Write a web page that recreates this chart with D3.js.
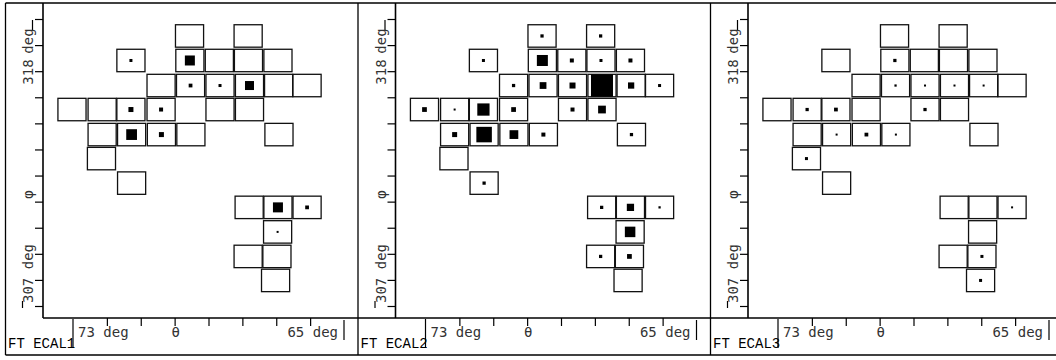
<!DOCTYPE html>
<html><head><meta charset="utf-8">
<script src="https://cdn.jsdelivr.net/npm/d3@7"></script>
<style>body{margin:0;background:#fff}svg{display:block}</style>
</head><body><svg id="c" width="1056" height="360"></svg>
<script>
// ---- data ----
const panelNames = ["FT ECAL1", "FT ECAL2", "FT ECAL3"];
// crystal centres (theta deg, phi deg)
const cellTheta = [
  69.56, 67.83,
  71.29, 69.55, 68.68, 67.82, 66.95,
  70.40, 69.53, 68.66, 67.79, 66.93, 66.09,
  73.03, 72.14, 71.29, 70.40, 68.66, 67.79,
  72.14, 71.27, 70.39, 69.52, 66.92,
  72.16,
  71.27,
  67.80, 66.95, 66.09,
  66.96,
  67.83, 66.98,
  67.02
];
const cellPhi = [
  317.35, 317.35,
  316.41, 316.41, 316.41, 316.41, 316.41,
  315.45, 315.45, 315.45, 315.45, 315.45, 315.45,
  314.53, 314.53, 314.53, 314.53, 314.53, 314.53,
  313.57, 313.57, 313.57, 313.57, 313.57,
  312.65,
  311.71,
  310.78, 310.78, 310.78,
  309.84,
  308.90, 308.90,
  307.98
];
// deposited energy per crystal (arbitrary units)
const ecal1 = [
  0, 0,
  12, 40, 0, 0, 0,
  0, 15, 12, 36, 0, 0,
  0, 0, 20, 16, 0, 0,
  0, 43, 20, 0, 0,
  0,
  0,
  0, 40, 15,
  8,
  0, 0,
  0
];
const ecal2 = [
  13, 13,
  12, 44, 16, 12, 16,
  13, 27, 24, 90, 25, 12,
  19, 8, 49, 19, 16, 31,
  20, 62, 35, 16, 13,
  0,
  13,
  13, 29, 9,
  42,
  13, 19,
  0
];
const ecal3 = [
  0, 0,
  0, 13, 0, 0, 0,
  0, 9, 8, 8, 8, 0,
  0, 13, 15, 0, 13, 0,
  0, 8, 15, 8, 0,
  12,
  0,
  0, 0, 8,
  0,
  0, 12,
  12
];
const panelValues = [ecal1, ecal2, ecal3];
const thetaTicks = [73, 72, 71, 70, 69, 68, 67, 66, 65];
const phiTicks = [318, 317, 316, 315, 314, 313, 312, 311, 310, 309, 308, 307];

// ---- layout / style ----
const W = 1056, H = 360;
const panelStep = 352.5;
const frameX = 5.5, axisX = 43, topY = 3, axisY = 318, bottomY = 355;
const cellW = 0.83, cellH = 0.86;      // crystal size in degrees
const maxValue = 90, maxSide = 22.5;
const monoFont = "'DejaVu Sans Mono', monospace";

const svg = d3.select("#c");
const x = d3.scaleLinear().domain([73, 65]).range([73, 344]);
const y = d3.scaleLinear().domain([318, 307]).range([19, 306]);
const side = d3.scaleLinear().domain([0, maxValue]).range([0, maxSide]);

const frame = svg.append("g").attr("stroke", "#000").attr("fill", "none");
frame.append("line").attr("x1", frameX).attr("x2", W).attr("y1", topY).attr("y2", topY).attr("stroke-width", 1.3);
frame.append("line").attr("x1", frameX).attr("x2", W).attr("y1", bottomY).attr("y2", bottomY).attr("stroke-width", 1.3);
frame.append("line").attr("x1", axisX).attr("x2", W).attr("y1", axisY).attr("y2", axisY).attr("stroke-width", 1.6);

panelNames.forEach((name, i) => {
  const g = svg.append("g").attr("transform", `translate(${i * panelStep},0)`);
  // frame left and axis lines
  g.append("line").attr("x1", frameX).attr("x2", frameX).attr("y1", topY).attr("y2", bottomY)
    .attr("stroke", "#000").attr("stroke-width", 1.3);
  g.append("line").attr("x1", axisX).attr("x2", axisX).attr("y1", topY).attr("y2", axisY)
    .attr("stroke", "#000").attr("stroke-width", 1.6);

  // axes ticks
  const xa = g.append("g").attr("transform", `translate(0,${axisY})`)
    .call(d3.axisBottom(x).tickValues(thetaTicks.slice(1, -1)).tickSize(8).tickSizeOuter(0).tickFormat(""));
  xa.select(".domain").remove();
  xa.selectAll("line").attr("stroke-width", 1.2);
  const ya = g.append("g").attr("transform", `translate(${axisX},0)`)
    .call(d3.axisLeft(y).tickValues(phiTicks).tickSize(8).tickSizeOuter(0).tickFormat(""));
  ya.select(".domain").remove();
  ya.selectAll("line").attr("stroke-width", 1.2);

  // end markers
  g.append("line").attr("x1", x(73)).attr("x2", x(73)).attr("y1", axisY + 1).attr("y2", axisY + 30)
    .attr("stroke", "#000").attr("stroke-width", 1.2);
  g.append("line").attr("x1", x(65)).attr("x2", x(65)).attr("y1", axisY + 2).attr("y2", axisY + 22)
    .attr("stroke", "#000").attr("stroke-width", 1.2);
  g.append("line").attr("x1", 32.5).attr("x2", 32.5).attr("y1", 20).attr("y2", 30)
    .attr("stroke", "#000").attr("stroke-width", 1.2);
  g.append("line").attr("x1", 22.5).attr("x2", 22.5).attr("y1", 301).attr("y2", 308)
    .attr("stroke", "#000").attr("stroke-width", 1.2);

  // axis labels
  const lab = g.append("g").attr("font-family", monoFont).attr("font-size", 14).attr("fill", "#333");
  lab.append("text").attr("x", x(73) + 5).attr("y", 337).text("73 deg");
  lab.append("text").attr("x", x(65) - 6).attr("y", 337).attr("text-anchor", "end").text("65 deg");
  lab.append("text").attr("x", x(70) + 1).attr("y", 337).attr("text-anchor", "middle").text("θ");
  lab.append("text").attr("transform", `translate(33,41) rotate(-90)`).attr("text-anchor", "middle").text("deg");
  lab.append("text").attr("transform", `translate(33,${y(318) + 53}) rotate(-90)`).attr("text-anchor", "middle").text("318");
  lab.append("text").attr("transform", `translate(33,303) rotate(-90)`).attr("text-anchor", "start").text("307 deg");
  lab.append("text").attr("transform", `translate(33,${y(311) - 7}) rotate(-90)`).attr("text-anchor", "middle").text("φ");
  g.append("text").attr("x", 8).attr("y", 348).attr("font-family", "'Liberation Mono', 'Courier New', monospace")
    .attr("font-size", 14).attr("fill", "#000").text(name);

  // crystals
  const vals = panelValues[i];
  const cells = cellTheta.map((t, k) => ({ t, p: cellPhi[k], v: vals[k] }));
  g.append("g").selectAll("rect").data(cells).join("rect")
    .attr("x", d => x(d.t + cellW / 2))
    .attr("y", d => y(d.p + cellH / 2))
    .attr("width", d => x(d.t - cellW / 2) - x(d.t + cellW / 2))
    .attr("height", d => y(d.p - cellH / 2) - y(d.p + cellH / 2))
    .attr("fill", "#fff").attr("stroke", "#111").attr("stroke-width", 1.3);
  g.append("g").selectAll("rect").data(cells.filter(d => d.v > 0)).join("rect")
    .attr("x", d => x(d.t) - Math.min(side(d.v), 22) / 2)
    .attr("y", d => y(d.p) - side(d.v) / 2)
    .attr("width", d => Math.min(side(d.v), 22))
    .attr("height", d => side(d.v))
    .attr("fill", "#000");
});
</script></body></html>
